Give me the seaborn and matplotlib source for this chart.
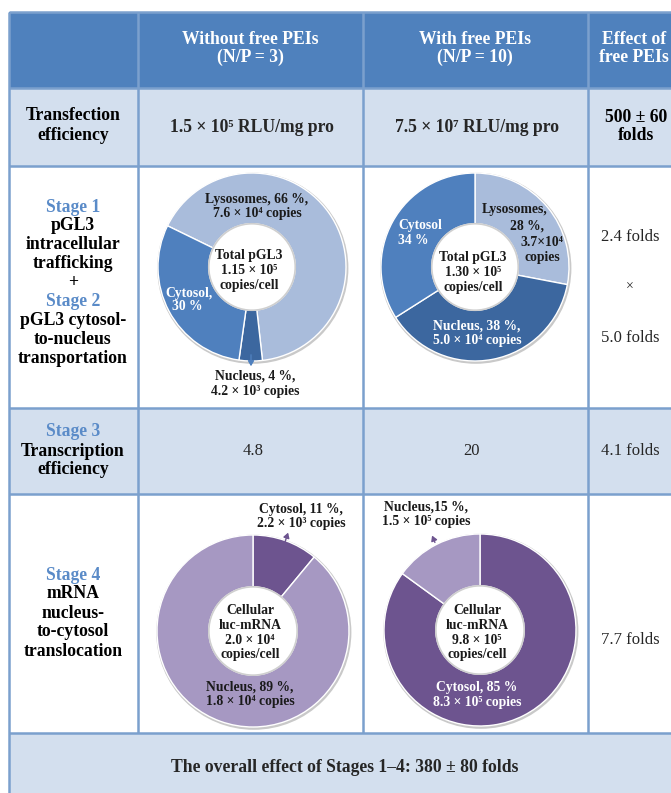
import matplotlib
matplotlib.use("Agg")
import matplotlib.pyplot as plt
from matplotlib.patches import Rectangle, Circle, FancyArrowPatch
import seaborn as sns

# ---------------- data ----------------
header_cols = [["Without free PEIs", "(N/P = 3)"], ["With free PEIs", "(N/P = 10)"], ["Effect of", "free PEIs"]]
row_labels_transfection = ["Transfection", "efficiency"]
transfection_vals = ["1.5 × 10⁵ RLU/mg pro", "7.5 × 10⁷ RLU/mg pro"]
transfection_effect = ["500 ± 60", "folds"]

pgl3_parts = ["Lysosomes", "Nucleus", "Cytosol"]
pgl3_without = [66, 4, 30]
pgl3_with = [28, 38, 34]
pgl3_total = ["1.15 × 10⁵", "1.30 × 10⁵"]
stage12_effect = ["2.4 folds", "×", "5.0 folds"]

transcription_vals = ["4.8", "20"]
transcription_effect = "4.1 folds"

mrna_without_parts = ["Cytosol", "Nucleus"]
mrna_without = [11, 89]
mrna_with_parts = ["Cytosol", "Nucleus"]
mrna_with = [85, 15]
mrna_total = ["2.0 × 10⁴", "9.8 × 10⁵"]
stage4_effect = "7.7 folds"

overall_text = "The overall effect of Stages 1–4: 380 ± 80 folds"

# ---------------- style ----------------
sns.set_theme(style="white")
FAM = ["Liberation Serif", "DejaVu Serif"]
plt.rcParams["font.family"] = FAM

HEAD = "#4F81BD"
LIGHT = "#D3DFEE"
GRID = "#7BA0CD"
STAGE = "#5A8BC8"
pgl3_colors = {"Lysosomes": "#A9BCDB", "Nucleus": "#3C679F", "Cytosol": "#4F80BE"}
mrna_colors = {"Cytosol": "#6D548F", "Nucleus": "#A698C2"}

W, H = 671, 793
fig = plt.figure(figsize=(W / 100, H / 100), dpi=100)
ax = fig.add_axes([0, 0, 1, 1])
ax.set_xlim(0, W)
ax.set_ylim(0, H)
ax.set_aspect("equal")
ax.axis("off")


def Y(y):
    return H - y


# ---------------- table ----------------
x0, x1 = 9, 681
col_x = [9, 138, 363, 588, 681]
rows = [(12, 88, HEAD), (88, 166, LIGHT), (166, 408, "white"), (408, 494, LIGHT),
        (494, 733, "white"), (733, 820, LIGHT)]
for top, bot, c in rows:
    ax.add_patch(Rectangle((x0, Y(bot)), x1 - x0, bot - top, facecolor=c, edgecolor="none", zorder=0))
for yb in [12, 88, 166, 408, 494, 733]:
    ax.plot([x0, x1], [Y(yb), Y(yb)], color=GRID, lw=1.8, zorder=1, solid_capstyle="butt")
for xv in col_x[1:4]:
    ax.plot([xv, xv], [Y(12), Y(733)], color=GRID, lw=1.8, zorder=1, solid_capstyle="butt")
ax.plot([x0, x0], [Y(12), Y(820)], color=GRID, lw=1.8, zorder=1, solid_capstyle="butt")

cx = [73, 250, 475, 634]


def lines(x, y0, step, texts, colors=None, ha="center", **kw):
    for i, t in enumerate(texts):
        c = colors[i] if colors else kw.get("color", "black")
        kk = dict(kw)
        kk["color"] = c
        ax.text(x, Y(y0 + i * step), t, ha=ha, va="center", zorder=5, **kk)


TB = dict(fontsize=12.7, fontweight="bold")
TR = dict(fontsize=12)

# header
for i, hdr in enumerate(header_cols):
    lines(cx[i + 1], 39, 18.5, hdr, color="white", **TB)

# row 1
lines(cx[0], 116, 19, row_labels_transfection, **TB)
ax.text(cx[1] + 2, Y(128), transfection_vals[0], ha="center", va="center", **TB)
ax.text(cx[2] + 2, Y(128), transfection_vals[1], ha="center", va="center", **TB)
lines(cx[3] + 2, 117, 18.5, transfection_effect, **TB)

# row 2 labels
s12 = ["Stage 1", "pGL3", "intracellular", "trafficking", "+", "Stage 2",
       "pGL3 cytosol-", "to-nucleus", "transportation"]
s12c = [STAGE, "black", "black", "black", "black", STAGE, "black", "black", "black"]
lines(cx[0], 207, 18.9, s12, colors=s12c, **TB)
ax.text(630, Y(237), stage12_effect[0], ha="center", va="center", **TR)
ax.text(630, Y(287), stage12_effect[1], ha="center", va="center", fontsize=10)
ax.text(630, Y(338), stage12_effect[2], ha="center", va="center", **TR)

# row 3
lines(cx[0], 432, 19, ["Stage 3", "Transcription", "efficiency"], colors=[STAGE, "black", "black"], **TB)
ax.text(253, Y(451), transcription_vals[0], ha="center", va="center", **TR)
ax.text(472, Y(451), transcription_vals[1], ha="center", va="center", **TR)
ax.text(630, Y(451), transcription_effect, ha="center", va="center", **TR)

# row 4
lines(cx[0], 575, 19, ["Stage 4", "mRNA", "nucleus-", "to-cytosol", "translocation"],
      colors=[STAGE, "black", "black", "black", "black"], **TB)
ax.text(630, Y(640), stage4_effect, ha="center", va="center", **TR)

# row 5
ax.text(345, Y(768), overall_text, ha="center", va="center", **TB)


# ---------------- donuts ----------------
def donut(center, r, values, parts, cmap, startangle):
    c = (center[0], Y(center[1]))
    ax.add_patch(Circle((c[0] + 0.8, c[1] - 1.2), r + 1.6, facecolor="#c9c9c9", edgecolor="none", zorder=1.5))
    ax.pie(values, colors=[cmap[p] for p in parts], startangle=startangle, counterclock=False,
           center=c, radius=r, frame=True,
           wedgeprops=dict(width=r * 0.54, edgecolor="white", linewidth=1.0, zorder=2))
    ax.add_patch(Circle(c, r * 0.46, facecolor="white", edgecolor="#cfcfcf", lw=1.2, zorder=2.5))


donut((252, 267), 94, pgl3_without, pgl3_parts, pgl3_colors, 154)
donut((475, 267), 94, pgl3_with, pgl3_parts, pgl3_colors, 90)
donut((253, 631), 96, mrna_without, mrna_without_parts, mrna_colors, 90)
donut((480, 630), 96, mrna_with, mrna_with_parts, mrna_colors, 90)

ax.set_xlim(0, W)
ax.set_ylim(0, H)
ax.axis("off")

DL = dict(fontsize=9.8, fontweight="bold", family=["Liberation Serif", "DejaVu Serif"])
BLK = "#1a1a1a"

# top-left donut labels
lines(257, 199, 15, [f"Lysosomes, {pgl3_without[0]} %,", "7.6 × 10⁴ copies"], color=BLK, **DL)
lines(249, 256, 14.5, ["Total pGL3", pgl3_total[0], "copies/cell"], color=BLK, **DL)
ax.text(165, Y(293), "Cytosol,", ha="left", va="center", color="white", zorder=5, **DL)
ax.text(172, Y(307), f"{pgl3_without[2]} %", ha="left", va="center", color="white", zorder=5, **DL)
lines(255, 376, 15, [f"Nucleus, {pgl3_without[1]} %,", "4.2 × 10³ copies"], color=BLK, **DL)
ax.add_patch(FancyArrowPatch((251, Y(352)), (251, Y(369)), arrowstyle="-|>,head_length=3,head_width=1.8",
                             color="#4F80BE", lw=1, zorder=6))

# top-right donut labels
lines(515, 209, 16, ["Lysosomes,"], color=BLK, **DL)
lines(527, 226, 16, [f"{pgl3_with[0]} %,"], color=BLK, **DL)
lines(542, 242, 15, ["3.7×10⁴", "copies"], color=BLK, **DL)
lines(398, 226, 15, ["Cytosol", f"{pgl3_with[2]} %"], color="white", ha="left", **DL)
lines(473, 258, 14.5, ["Total pGL3", pgl3_total[1], "copies/cell"], color=BLK, **DL)
lines(477, 326, 14.5, [f"Nucleus, {pgl3_with[1]} %,", "5.0 × 10⁴ copies"], color="white", **DL)

# bottom-left donut labels
lines(301, 509, 15, [f"Cytosol, {mrna_without[0]} %,", "2.2 × 10³ copies"], color=BLK, **DL)
lines(250, 611, 14.5, ["Cellular", "luc-mRNA", mrna_total[0], "copies/cell"], color=BLK, **DL)
lines(250, 687, 14.5, [f"Nucleus, {mrna_without[1]} %,", "1.8 × 10⁴ copies"], color=BLK, **DL)
ax.add_patch(FancyArrowPatch((284, Y(545)), (289, Y(530)), arrowstyle="-|>,head_length=3,head_width=1.8",
                             color="#6D548F", lw=1, zorder=6))

# bottom-right donut labels
lines(426, 507, 15, [f"Nucleus,{mrna_with[1]} %,", "1.5 × 10⁵ copies"], color=BLK, **DL)
lines(477, 611, 14.5, ["Cellular", "luc-mRNA", mrna_total[1], "copies/cell"], color=BLK, **DL)
lines(477, 687, 15.5, [f"Cytosol, {mrna_with[0]} %", "8.3 × 10⁵ copies"], color="white", **DL)
ax.add_patch(FancyArrowPatch((436, Y(545)), (431, Y(533)), arrowstyle="-|>,head_length=3,head_width=1.8",
                             color="#6D548F", lw=1, zorder=6))

fig.savefig("out.png", dpi=100)
